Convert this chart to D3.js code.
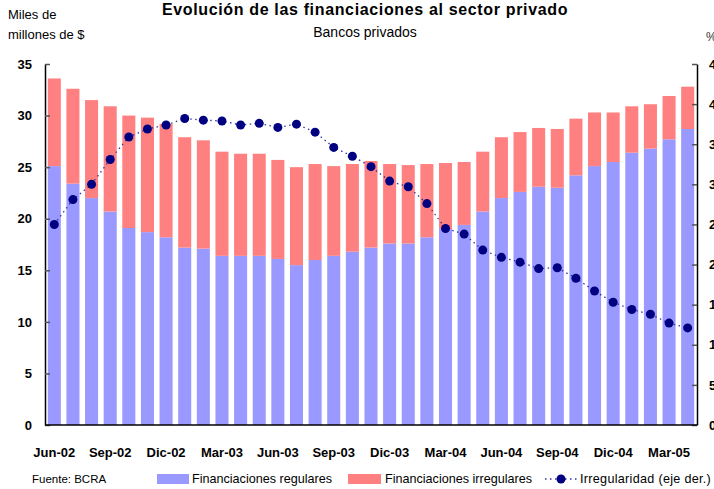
<!DOCTYPE html>
<html>
<head>
<meta charset="utf-8">
<script src="https://cdn.jsdelivr.net/npm/d3@7"></script>
<style>
  body { margin: 0; background: #fff; }
  svg { display: block; font-family: "Liberation Sans", Arial, sans-serif; }
</style>
</head>
<body>
<svg width="714" height="489"></svg>
<script>
// Months (Jun-02 .. Apr-05)
const months = ["Jun-02", "Jul-02", "Ago-02", "Sep-02", "Oct-02", "Nov-02", "Dic-02",
    "Ene-03", "Feb-03", "Mar-03", "Abr-03", "May-03", "Jun-03", "Jul-03", "Ago-03", "Sep-03",
    "Oct-03", "Nov-03", "Dic-03", "Ene-04", "Feb-04", "Mar-04", "Abr-04", "May-04", "Jun-04",
    "Jul-04", "Ago-04", "Sep-04", "Oct-04", "Nov-04", "Dic-04", "Ene-05", "Feb-05", "Mar-05", "Abr-05"];
const tickMonths = ["Jun-02", "Sep-02", "Dic-02", "Mar-03", "Jun-03", "Sep-03", "Dic-03",
    "Mar-04", "Jun-04", "Sep-04", "Dic-04", "Mar-05"];

// Miles de millones de $
const regulares = [25.1, 23.4, 22.0, 20.7, 19.1, 18.7, 18.2, 17.2, 17.1, 16.4, 16.4, 16.4,
    16.1, 15.5, 16.0, 16.4, 16.8, 17.2, 17.6, 17.6, 18.2, 19.0, 19.4, 20.7, 22.0, 22.6,
    23.1, 23.0, 24.2, 25.1, 25.5, 26.4, 26.8, 27.7, 28.7];
const irregulares = [8.5, 9.2, 9.5, 10.2, 10.9, 11.1, 11.0, 10.7, 10.5, 10.1, 9.9, 9.9,
    9.6, 9.5, 9.3, 8.7, 8.5, 8.4, 7.7, 7.6, 7.1, 6.4, 6.1, 5.8, 5.9, 5.8,
    5.7, 5.7, 5.5, 5.2, 4.8, 4.5, 4.3, 4.2, 4.1];
// % (eje derecho)
const irregularidad = [25.0, 28.1, 30.0, 33.1, 35.9, 36.9, 37.4, 38.2, 38.0, 37.9, 37.4, 37.6,
    37.1, 37.5, 36.5, 34.6, 33.5, 32.2, 30.4, 29.7, 27.6, 24.5, 23.8, 21.8, 20.9, 20.3,
    19.5, 19.6, 18.3, 16.7, 15.3, 14.4, 13.8, 12.7, 12.1];

const leftTicks = [0, 5, 10, 15, 20, 25, 30, 35];
const rightTicks = [0, 5, 10, 15, 20, 25, 30, 35, 40, 45];

const colReg = "#9999ff", colIrr = "#ff8080", colDot = "#000080";

const svg = d3.select("svg");
const margin = { top: 64, right: 17, bottom: 64, left: 45 };
const width = 714 - margin.left - margin.right,
    height = 489 - margin.top - margin.bottom;
const g = svg.append("g").attr("transform", `translate(${margin.left},${margin.top})`);

const x = d3.scaleBand().domain(months).range([0, width]).paddingInner(0.3).paddingOuter(0.15);
const y = d3.scaleLinear().domain([0, 35]).range([height, 0]);
const y2 = d3.scaleLinear().domain([0, 45]).range([height, 0]);

const rows = months.map((m, i) => ({ m, reg: regulares[i], irr: irregulares[i], pct: irregularidad[i] }));

// bars
g.selectAll(".reg").data(rows).enter().append("rect")
    .attr("x", d => x(d.m)).attr("width", x.bandwidth())
    .attr("y", d => y(d.reg)).attr("height", d => y(0) - y(d.reg))
    .attr("fill", colReg);
g.selectAll(".irr").data(rows).enter().append("rect")
    .attr("x", d => x(d.m)).attr("width", x.bandwidth())
    .attr("y", d => y(d.reg + d.irr)).attr("height", d => y(d.reg) - y(d.reg + d.irr))
    .attr("fill", colIrr);

// irregularity line
const line = d3.line().x(d => x(d.m) + x.bandwidth() / 2).y(d => y2(d.pct));
g.append("path").datum(rows)
    .attr("d", line).attr("fill", "none")
    .attr("stroke", "#3333a0").attr("stroke-width", 1.3)
    .attr("stroke-dasharray", "1.5 3.5");
g.selectAll(".dot").data(rows).enter().append("circle")
    .attr("cx", d => x(d.m) + x.bandwidth() / 2).attr("cy", d => y2(d.pct))
    .attr("r", 4.5).attr("fill", colDot);

// axes
const styleAxis = sel => {
    sel.select(".domain").attr("stroke", "#000").attr("stroke-width", 1.5);
    sel.selectAll(".tick line").attr("stroke", "#555").attr("stroke-width", 1.5);
    sel.selectAll("text").attr("fill", "#000").attr("font-weight", "bold")
        .attr("font-size", 13).attr("font-family", "Liberation Sans, Arial, sans-serif");
};
g.append("g")
    .call(d3.axisLeft(y).tickValues(leftTicks).tickSizeInner(-5).tickSizeOuter(0).tickPadding(13))
    .call(styleAxis);
// right axis labels run past the window edge, as in the original
g.append("g").attr("transform", `translate(${width},0)`)
    .call(d3.axisRight(y2).tickValues(rightTicks).tickSizeInner(-5).tickSizeOuter(0).tickPadding(12))
    .call(styleAxis);
g.append("g").attr("transform", `translate(0,${height})`)
    .call(d3.axisBottom(x).tickValues(tickMonths).tickSize(0).tickPadding(23))
    .call(styleAxis)
    .call(s => s.select(".domain").attr("d", `M0,0H${width}`));

// titles
svg.append("text").attr("x", 365).attr("y", 15).attr("text-anchor", "middle")
    .attr("font-size", 16).attr("font-weight", "bold").attr("letter-spacing", 0.65)
    .text("Evolución de las financiaciones al sector privado");
svg.append("text").attr("x", 365).attr("y", 37).attr("text-anchor", "middle")
    .attr("font-size", 14).text("Bancos privados");
svg.append("text").attr("x", 8).attr("y", 19).attr("font-size", 13).text("Miles de");
svg.append("text").attr("x", 8).attr("y", 39).attr("font-size", 13).text("millones de $");
svg.append("text").attr("x", 706).attr("y", 41).attr("font-size", 12).attr("fill", "#333").text("%");

// legend
svg.append("text").attr("x", 32).attr("y", 483).attr("font-size", 11.5).text("Fuente: BCRA");
const legend = svg.append("g").attr("font-size", 12.6);
legend.append("rect").attr("x", 157).attr("y", 474).attr("width", 32).attr("height", 10).attr("fill", colReg);
legend.append("text").attr("x", 192).attr("y", 483).text("Financiaciones regulares");
legend.append("rect").attr("x", 348).attr("y", 474).attr("width", 33).attr("height", 10).attr("fill", colIrr);
legend.append("text").attr("x", 385).attr("y", 483).text("Financiaciones irregulares");
legend.append("line").attr("x1", 545).attr("x2", 577).attr("y1", 479).attr("y2", 479)
    .attr("stroke", "#3333a0").attr("stroke-width", 1.3).attr("stroke-dasharray", "1.5 3.5");
legend.append("circle").attr("cx", 561).attr("cy", 479).attr("r", 4.5).attr("fill", colDot);
legend.append("text").attr("x", 580).attr("y", 483).attr("letter-spacing", 0.3).text("Irregularidad (eje der.)");
</script>
</body>
</html>
